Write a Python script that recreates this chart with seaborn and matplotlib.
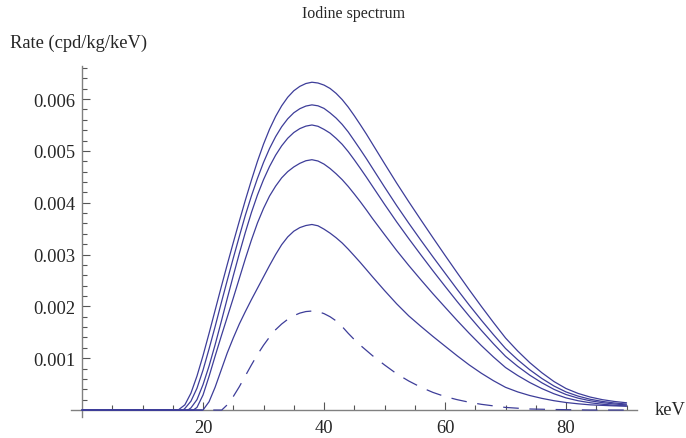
import matplotlib
matplotlib.use("Agg")
import matplotlib.pyplot as plt
import seaborn as sns

# values (keV, cpd/kg/keV)
tail = [38, 39, 40, 41, 42, 43, 44, 45, 46, 47, 48, 50, 52, 54, 56, 58, 60, 62, 64, 66, 68, 70,
        72, 74, 76, 78, 80, 82, 84, 86, 88, 90]

kev_a = [0, 15.9, 17, 18, 19, 20, 21, 22, 23, 24, 25, 26, 27, 28, 29, 30, 31, 32, 33, 34, 35, 36, 37] + tail
rate_a = [0, 0, 0.0001, 0.000325, 0.000655, 0.00105, 0.00148, 0.001925, 0.00237, 0.002805, 0.00323,
          0.003645, 0.00405, 0.004435, 0.0048, 0.00513, 0.00542, 0.005665, 0.00587, 0.006035, 0.00616,
          0.006245, 0.0063,
          0.006325, 0.00631, 0.00627, 0.006205, 0.00611, 0.00599, 0.005845, 0.00568, 0.005505, 0.005325,
          0.005135, 0.004755, 0.00438, 0.00402, 0.00367, 0.003325, 0.002985, 0.00265, 0.00232, 0.002,
          0.00169, 0.00139, 0.00114, 0.000915, 0.00072, 0.00055, 0.000415, 0.00032, 0.00025, 0.0002,
          0.000165, 0.00014]

kev_b = [0, 16.7, 17, 18, 19, 20, 21, 22, 23, 24, 25, 26, 27, 28, 29, 30, 31, 32, 33, 34, 35, 36, 37] + tail
rate_b = [0, 0, 0.00003, 0.00017, 0.00042, 0.00077, 0.00118, 0.00161, 0.00206, 0.0025, 0.00293,
          0.00335, 0.00376, 0.00413, 0.00447, 0.004777, 0.005047, 0.005275, 0.005466, 0.005619, 0.005735,
          0.005814, 0.005865,
          0.005888, 0.00587, 0.00582, 0.005733, 0.005633, 0.005511, 0.005366, 0.005197, 0.005026, 0.004851,
          0.004668, 0.004303, 0.003946, 0.003606, 0.003277, 0.002956, 0.002642, 0.002329, 0.002025,
          0.001734, 0.001455, 0.001188, 0.000971, 0.000777, 0.000609, 0.000464, 0.000349, 0.000268,
          0.000208, 0.000166, 0.000136, 0.000115]

kev_c = [0, 17.5, 18, 19, 20, 21, 22, 23, 24, 25, 26, 27, 28, 29, 30, 31, 32, 33, 34, 35, 36, 37] + tail
rate_c = [0, 0, 0.00004, 0.0002, 0.00049, 0.00085, 0.00126, 0.0017, 0.00215, 0.00259, 0.00302,
          0.00343, 0.00381, 0.00415, 0.004445, 0.0047, 0.004917, 0.005098, 0.005244, 0.005354, 0.00543,
          0.005478,
          0.0055, 0.005475, 0.005415, 0.005343, 0.005242, 0.005127, 0.004986, 0.004828, 0.004663, 0.004494,
          0.004319, 0.00397, 0.003631, 0.003308, 0.002995, 0.002687, 0.002388, 0.002094, 0.00181,
          0.001538, 0.001279, 0.001036, 0.000844, 0.000673, 0.000526, 0.000399, 0.000299, 0.000229,
          0.000178, 0.000142, 0.000116, 0.000098]

kev_d = [0, 18.4, 19, 20, 21, 22, 23, 24, 25, 26, 27, 28, 29, 30, 31, 32, 33, 34, 35, 36, 37] + tail
rate_d = [0, 0, 0.00005, 0.00029, 0.00065, 0.00104, 0.00142, 0.00179, 0.00216, 0.00254, 0.00292,
          0.00328, 0.00361, 0.00389, 0.00413, 0.00432, 0.00448, 0.0046, 0.00469, 0.00476, 0.00481,
          0.00483, 0.004805, 0.004745, 0.00466, 0.004558, 0.004445, 0.004314, 0.004169, 0.004019, 0.003861,
          0.003697, 0.003386, 0.003079, 0.00279, 0.002514, 0.002244, 0.001985, 0.001728, 0.00148,
          0.001244, 0.001024, 0.00082, 0.000667, 0.000531, 0.000414, 0.000314, 0.000234, 0.000179,
          0.00014, 0.000112, 0.000092, 0.000078]

kev_e = [0, 20, 21, 22, 23, 24, 25, 26, 27, 28, 29, 30, 31, 32, 33, 34, 35, 36, 37] + tail
rate_e = [0, 0, 0.00016, 0.00044, 0.00077, 0.0011, 0.00139, 0.00166, 0.0019, 0.00213, 0.00235,
          0.00257, 0.00279, 0.003, 0.00319, 0.00334, 0.00345, 0.00352, 0.00356,
          0.00358, 0.003555, 0.00349, 0.003413, 0.003324, 0.003223, 0.003104, 0.002976, 0.002846, 0.00271,
          0.002573, 0.002306, 0.00205, 0.001817, 0.001615, 0.00142, 0.001233, 0.001047, 0.00087,
          0.00071, 0.000566, 0.000438, 0.00035, 0.00028, 0.000225, 0.00018, 0.000145, 0.00012,
          0.0001, 0.00009, 0.00008, 0.000075]

# dashed curve
kev_f = [0, 23.1, 24, 25, 26, 27, 28, 29, 30, 31, 32, 33, 34, 35, 36, 37, 38, 39, 40, 41, 42, 43, 44,
         45, 46, 47, 48, 50, 52, 54, 56, 58, 60, 62, 64, 66, 68, 70, 74, 78, 84, 90]
rate_f = [0, 0, 0.0001, 0.00026, 0.00045, 0.00066, 0.00087, 0.00107, 0.00125, 0.00141, 0.00155,
          0.00166, 0.00175, 0.00182, 0.00187, 0.0019, 0.00191, 0.0019, 0.00186, 0.0018, 0.00172,
          0.00161, 0.00148, 0.00136, 0.00125, 0.00115, 0.00105, 0.00087, 0.0007, 0.00056, 0.00044,
          0.00034, 0.00026, 0.0002, 0.00015, 0.00011, 0.00008, 0.00005, 0.00002, 0.00001, 0.0, 0.0]

xticks = [20, 40, 60, 80]
xminor = [5, 10, 15, 25, 30, 35, 45, 50, 55, 65, 70, 75, 85, 90]
yticks = [0.001, 0.002, 0.003, 0.004, 0.005, 0.006]
ylabels = ["0.001", "0.002", "0.003", "0.004", "0.005", "0.006"]

sns.set_style("ticks")
plt.rcParams["font.family"] = ["Liberation Serif", "DejaVu Serif"]

fig = plt.figure(figsize=(6.86, 4.39), dpi=100)
ax = fig.add_axes([0.1028, 0.0472, 0.8255, 0.8004])

blue = "#3d3d99"
for kev, rate in [(kev_a, rate_a), (kev_b, rate_b), (kev_c, rate_c), (kev_d, rate_d), (kev_e, rate_e)]:
    sns.lineplot(x=kev, y=rate, ax=ax, color=blue, lw=0.9, sort=False, errorbar=None, zorder=3)
sns.lineplot(x=kev_f, y=rate_f, ax=ax, color=blue, lw=0.9, sort=False, errorbar=None, zorder=3)
ax.lines[-1].set_dashes([12.5, 8.5])

ax.set_xlim(-1.9, 91.7)
ax.set_ylim(-0.00014, 0.00664)
ax.set_xlabel("")
ax.set_ylabel("")

# Mathematica-like axes crossing at the origin
for s in ["top", "right"]:
    ax.spines[s].set_visible(False)
for s in ["left", "bottom"]:
    ax.spines[s].set_position(("data", 0))
    ax.spines[s].set_color("#808080")
    ax.spines[s].set_linewidth(1.0)

ax.set_xticks(xticks)
ax.set_xticks(xminor, minor=True)
ax.set_yticks(yticks)
ax.set_yticklabels(ylabels)
ax.set_yticks([v * 0.0002 for v in range(1, 34) if v % 5 != 0], minor=True)
ax.tick_params(which="both", direction="in", color="#555555", width=0.8, labelsize=13.3)
ax.tick_params(which="major", length=6)
ax.tick_params(which="minor", length=3.5)
ax.tick_params(axis="x", pad=6.5)
ax.tick_params(axis="y", pad=5)

fig.text(354 / 686, 1 - 14 / 439, "Iodine spectrum", ha="center", va="center", fontsize=11.4)
fig.text(10 / 686, 1 - 43 / 439, "Rate (cpd/kg/keV)", ha="left", va="center", fontsize=13.3)
fig.text(655 / 686, 1 - 411 / 439, "keV", ha="left", va="center", fontsize=13.3)

fig.savefig("out.png", dpi=100)
